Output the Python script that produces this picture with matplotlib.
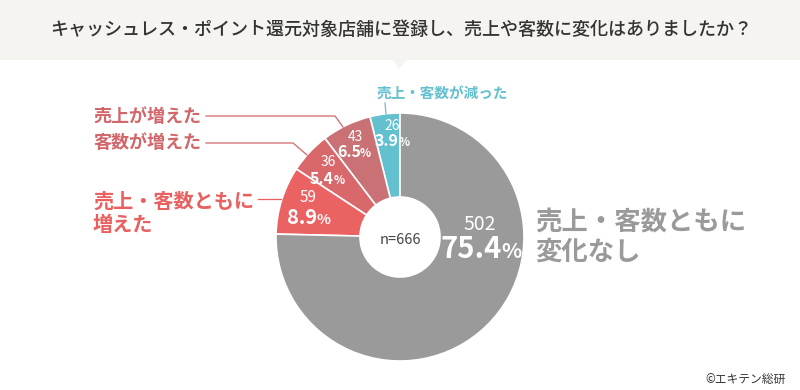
import matplotlib
matplotlib.use("Agg")
import matplotlib.pyplot as plt
from matplotlib.patches import Rectangle, Polygon

plt.rcParams['font.family'] = ['Noto Sans CJK JP', 'DejaVu Sans']

# ---- data ----
title = "キャッシュレス・ポイント還元対象店舗に登録し、売上や客数に変化はありましたか？"
categories = ["売上・客数が減った", "売上が増えた", "客数が増えた",
              "売上・客数ともに\n増えた", "売上・客数ともに\n変化なし"]
counts = [26, 43, 36, 59, 502]
percents = [3.9, 6.5, 5.4, 8.9, 75.4]
n_total = 666
source = "©エキテン総研"

slice_colors = ["#63c0cf", "#c97175", "#d9686b", "#eb6262", "#9a9a9a"]
label_colors = ["#63c0cf", "#d2676b", "#d2676b", "#e8605f", "#9a9a9a"]

W, H = 800, 390
fig = plt.figure(figsize=(W / 100, H / 100), dpi=100)
ax = fig.add_axes([0, 0, 1, 1])

def Y(y):
    return H - y

# pie
cx, cy, R, r_hole = 400, 237, 124, 40
ax.pie(counts, startangle=90, counterclock=True, radius=R, center=(cx, Y(cy)),
       colors=slice_colors,
       wedgeprops=dict(width=R - r_hole, edgecolor="white", linewidth=1.2))
ax.set_xlim(0, W)
ax.set_ylim(0, H)
ax.set_aspect("equal")
ax.axis("off")

# banner
ax.add_patch(Rectangle((0, Y(60)), W, 60, facecolor="#f5f4f1", edgecolor="none", zorder=0))
ax.add_patch(Polygon([(393, Y(60)), (406, Y(60)), (399.5, Y(69))], closed=True,
                     facecolor="#f5f4f1", edgecolor="none", zorder=0))
ax.text(401, Y(30), title, ha="center", va="center", fontsize=13.0, color="#333333",
        fontweight="medium")

renderer = fig.canvas.get_renderer()

def pct_label(x, y, value, size, color="white"):
    t1 = ax.text(0, Y(y), f"{value}", ha="left", va="baseline", fontsize=size,
                 fontweight="bold", color=color, zorder=5)
    t2 = ax.text(0, Y(y), "%", ha="left", va="baseline", fontsize=size * 0.72,
                 fontweight="bold", color=color, zorder=5)
    w1 = t1.get_window_extent(renderer).width
    w2 = t2.get_window_extent(renderer).width
    gap = -size * 0.05
    total = w1 + w2 + gap
    x0 = x - total / 2
    t1.set_x(x0)
    t2.set_x(x0 + w1 + gap)

# slice value labels (count, then percent), pixel positions
count_pos = [(392, 126), (355, 137), (328, 162), (308, 197), (480, 224)]
pct_pos = [(392, 146), (354, 157), (327, 184), (309, 224), (481, 258)]
count_size = [10, 10, 10, 11, 14]
pct_size = [11.5, 11.5, 11.5, 14.5, 21]
for i in range(len(counts)):
    x, y = count_pos[i]
    ax.text(x, Y(y), str(counts[i]), ha="center", va="center", fontsize=count_size[i],
            color="white", zorder=5)
    px, py = pct_pos[i]
    pct_label(px, py, percents[i], pct_size[i])

ax.text(cx, Y(240), f"n={n_total}", ha="center", va="center", fontsize=10.5,
        color="#444444", zorder=5)

# category labels
ax.text(442, Y(93), categories[0], ha="center", va="center", fontsize=10.5,
        fontweight="bold", color=label_colors[0])
ax.text(93, Y(116), categories[1], ha="left", va="center", fontsize=13,
        fontweight="bold", color=label_colors[1])
ax.text(93, Y(143), categories[2], ha="left", va="center", fontsize=13,
        fontweight="bold", color=label_colors[2])
ax.text(93, Y(213), categories[3], ha="left", va="center", fontsize=14.5,
        fontweight="bold", color=label_colors[3], linespacing=1.15)
ax.text(535, Y(238), categories[4], ha="left", va="center", fontsize=19,
        fontweight="bold", color=label_colors[4], linespacing=1.1)

# leader lines
lw = 0.9
ax.plot([385, 386], [Y(103), Y(114)], color=label_colors[0], lw=lw)
ax.plot([206, 335, 343], [Y(116), Y(116), Y(127)], color=label_colors[1], lw=lw)
ax.plot([206, 293, 307], [Y(143), Y(143), Y(155)], color=label_colors[2], lw=lw)
ax.plot([258, 281], [Y(199), Y(199)], color=label_colors[3], lw=lw)

ax.text(786, Y(380), source, ha="right", va="center", fontsize=8.5, color="#333333")

fig.savefig("out.png", dpi=100)
